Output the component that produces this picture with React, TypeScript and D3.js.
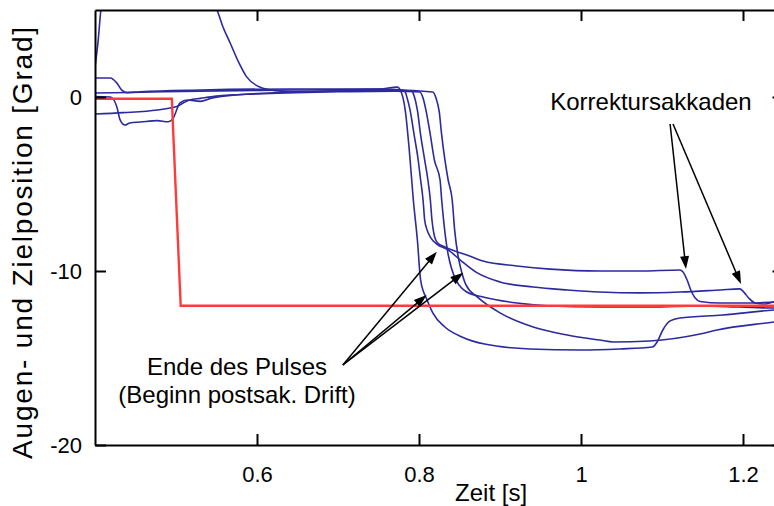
import React, { useRef, useEffect } from 'react';
import * as d3 from 'd3';

// Eye position traces (time [s], position [deg]).
type Pt = [number, number];

const xTicks = [0.6, 0.8, 1, 1.2];
const yTicks = [0, -10, -20];
const xLabel = 'Zeit [s]';
const yLabel = 'Augen- und Zielposition [Grad]';

// target step (red)
const target: Pt[] = [
  [0.4, -0.1], [0.4948, -0.1], [0.5058, -12.0], [1.25, -12.0],
];

// earliest saccade, ends lowest, corrective saccade upward at ~1.09 s
const eye1: Pt[] = [
  [0.400, 0.23], [0.443, 0.26], [0.530, 0.34], [0.641, 0.40], [0.752, 0.46], [0.773, 0.57],
  [0.778, 0.29], [0.783, -0.75], [0.788, -3.05], [0.793, -5.92], [0.798, -8.22], [0.802, -10.52],
  [0.810, -11.67], [0.817, -12.41], [0.832, -13.22], [0.853, -13.79], [0.881, -14.20], [0.937, -14.48],
  [0.999, -14.54], [1.048, -14.48], [1.088, -14.37], [1.094, -14.08], [1.101, -13.39], [1.110, -12.87],
  [1.122, -12.70], [1.175, -12.53], [1.238, -12.24], [1.250, -12.2],
];

// ends at ~ -11.1, correction saccade at ~1.20 s
const eye2: Pt[] = [
  [0.400, 1.09], [0.419, 1.09], [0.427, 0.80], [0.433, 0.40], [0.440, 0.25], [0.456, 0.30],
  [0.530, 0.40], [0.641, 0.46], [0.752, 0.46], [0.779, 0.40], [0.783, 0.29], [0.785, 0.0],
  [0.789, -0.75], [0.794, -2.18], [0.799, -3.62], [0.802, -4.77], [0.805, -5.92], [0.807, -7.07],
  [0.810, -7.64], [0.814, -8.05], [0.822, -8.45], [0.836, -8.79], [0.851, -9.37], [0.872, -10.11],
  [0.900, -10.63], [0.941, -10.92], [0.983, -11.09], [1.023, -11.21], [1.073, -11.26], [1.122, -11.21],
  [1.172, -11.09], [1.196, -11.03], [1.201, -11.21], [1.207, -11.55], [1.215, -11.84], [1.227, -11.90],
  [1.238, -11.78], [1.250, -11.75],
];

// ends at ~ -10, correction saccade at ~1.13 s
const eye3: Pt[] = [
  [0.400, 0.02], [0.419, 0.0], [0.427, -0.57], [0.431, -1.32], [0.437, -1.61], [0.443, -1.49],
  [0.456, -1.44], [0.477, -1.36], [0.490, -1.42], [0.496, -1.26], [0.505, -0.34], [0.514, -0.17],
  [0.530, -0.25], [0.545, -0.05], [0.600, 0.20], [0.700, 0.35], [0.770, 0.40], [0.791, 0.34],
  [0.794, 0.06], [0.798, -0.75], [0.802, -2.18], [0.807, -3.62], [0.811, -4.77], [0.814, -5.92],
  [0.816, -7.07], [0.819, -7.99], [0.823, -8.39], [0.832, -8.62], [0.844, -8.85], [0.859, -9.08],
  [0.879, -9.43], [0.921, -9.71], [0.962, -9.89], [1.023, -10.00], [1.073, -10.00], [1.122, -9.94],
  [1.126, -10.06], [1.131, -10.52], [1.136, -11.15], [1.141, -11.55], [1.147, -11.75], [1.172, -11.84],
  [1.212, -11.84], [1.238, -11.78], [1.250, -11.78],
];

// lands on the target
const eye4: Pt[] = [
  [0.400, -0.98], [0.435, -0.90], [0.477, -0.75], [0.493, -0.63], [0.501, -0.55], [0.509, -0.34],
  [0.517, -0.17], [0.530, -0.08], [0.550, 0.05], [0.600, 0.18], [0.700, 0.30], [0.770, 0.34],
  [0.801, 0.29], [0.805, -0.06], [0.809, -0.86], [0.814, -2.18], [0.819, -3.62], [0.826, -4.77],
  [0.828, -5.92], [0.831, -7.36], [0.835, -8.79], [0.840, -9.83], [0.847, -10.63], [0.859, -11.21],
  [0.879, -11.49], [0.921, -11.84], [0.962, -12.01], [1.023, -12.07], [1.085, -12.07], [1.147, -12.01],
  [1.196, -12.07], [1.238, -12.13], [1.250, -12.13],
];

// starts with a large excursion off the top, latest saccade, ends at ~ -14
const eye5: Pt[] = [
  [0.400, 1.72], [0.404, 3.3], [0.407, 4.9], [0.412, 6.5], [0.470, 9.0], [0.540, 6.0],
  [0.5515, 4.9], [0.558, 4.02], [0.567, 3.09], [0.577, 2.03], [0.587, 1.17], [0.604, 0.56],
  [0.624, 0.36], [0.641, 0.30], [0.700, 0.35], [0.770, 0.40], [0.817, 0.29], [0.821, -0.06],
  [0.825, -0.86], [0.828, -2.18], [0.832, -3.62], [0.836, -4.77], [0.841, -5.92], [0.844, -7.64],
  [0.848, -9.08], [0.852, -9.94], [0.858, -10.80], [0.872, -11.49], [0.900, -12.41], [0.941, -13.22],
  [0.983, -13.68], [1.023, -13.97], [1.040, -14.08], [1.085, -14.02], [1.147, -13.62], [1.168, -13.39],
  [1.238, -12.93], [1.250, -12.85],
];

const eyeTraces = [eye1, eye2, eye3, eye4, eye5];

// annotations (data coordinates)
const pulseText = ['Ende des Pulses', '(Beginn postsak. Drift)'];
const pulseTextPos: Pt[] = [[0.5753, -15.98], [0.5753, -17.59]];
const pulseArrowFrom: Pt = [0.706, -15.4];
const pulseArrowTips: Pt[] = [[0.822, -8.89], [0.8095, -11.38], [0.8547, -10.10]];

const corrText = 'Korrektursakkaden';
const corrTextPos: Pt = [1.0864, -0.75];
const corrArrowFrom: Pt[] = [[1.110, -1.55], [1.1136, -1.55]];
const corrArrowTips: Pt[] = [[1.1296, -9.89], [1.1975, -10.75]];

const xLabelPos: Pt = [0.889, -23.2];

export default function App() {
  const svgRef = useRef<SVGSVGElement | null>(null);

  useEffect(() => {
    if (!svgRef.current) return;
    const svg = d3.select(svgRef.current);
    svg.selectAll('*').remove();

    const font = '"Liberation Sans", Arial, Helvetica, sans-serif';
    const tickSize = 22;
    const textSize = 24;

    const x = d3.scaleLinear().domain([0.4, 1.25]).range([95, 783.5]);
    const y = d3.scaleLinear().domain([-20, 5]).range([445, 10]);

    // clip for the traces
    svg.append('clipPath').attr('id', 'plot-clip')
      .append('rect')
      .attr('x', x(0.4))
      .attr('y', y(5))
      .attr('width', x(1.25) - x(0.4))
      .attr('height', y(-20) - y(5));

    const plot = svg.append('g').attr('clip-path', 'url(#plot-clip)');

    const eyeLine = d3.line<Pt>()
      .x(d => x(d[0]))
      .y(d => y(d[1]))
      .curve(d3.curveMonotoneX);

    eyeTraces.forEach(tr => {
      plot.append('path')
        .attr('d', eyeLine(tr))
        .attr('fill', 'none')
        .attr('stroke', '#2c2a9e')
        .attr('stroke-width', 1.6)
        .attr('stroke-linejoin', 'round');
    });

    const targetLine = d3.line<Pt>().x(d => x(d[0])).y(d => y(d[1]));
    plot.append('path')
      .attr('d', targetLine(target))
      .attr('fill', 'none')
      .attr('stroke', '#ff3a3a')
      .attr('stroke-width', 2.4);

    // axes, ticks pointing inward on all four sides
    const styleAxis = (g: d3.Selection<SVGGElement, unknown, null, undefined>) => {
      g.attr('font-family', null).attr('font-size', null);
      g.select('.domain').attr('stroke', '#000').attr('stroke-width', 2);
      g.selectAll('.tick line').attr('stroke', '#000').attr('stroke-width', 2);
      g.selectAll('.tick text')
        .attr('fill', '#000')
        .attr('font-family', font)
        .attr('font-size', tickSize);
    };

    svg.append('g')
      .attr('transform', `translate(0,${y(-20)})`)
      .call(d3.axisBottom(x).tickValues(xTicks).tickSizeInner(-11).tickSizeOuter(0)
        .tickPadding(21).tickFormat(d => d3.format('~g')(d as number)))
      .call(styleAxis);

    svg.append('g')
      .attr('transform', `translate(0,${y(5)})`)
      .call(d3.axisTop(x).tickValues(xTicks).tickSizeInner(-11).tickSizeOuter(0).tickFormat(() => ''))
      .call(styleAxis);

    svg.append('g')
      .attr('transform', `translate(${x(0.4)},0)`)
      .call(d3.axisLeft(y).tickValues(yTicks).tickSizeInner(-11).tickSizeOuter(0)
        .tickPadding(13).tickFormat(d => String(d)))
      .call(styleAxis);

    svg.append('g')
      .attr('transform', `translate(${x(1.25)},0)`)
      .call(d3.axisRight(y).tickValues(yTicks).tickSizeInner(-11).tickSizeOuter(0).tickFormat(() => ''))
      .call(styleAxis);

    // axis titles
    svg.append('text')
      .attr('x', x(xLabelPos[0]))
      .attr('y', y(xLabelPos[1]))
      .attr('text-anchor', 'middle')
      .attr('font-family', font)
      .attr('font-size', textSize)
      .text(xLabel);

    svg.append('text')
      .attr('transform', `translate(32,242) rotate(-90)`)
      .attr('text-anchor', 'middle')
      .attr('font-family', font)
      .attr('font-size', 28)
      .attr('letter-spacing', 1.8)
      .text(yLabel);

    // arrows
    const arrow = (from: Pt, to: Pt) => {
      const x1 = x(from[0]), y1 = y(from[1]);
      const x2 = x(to[0]), y2 = y(to[1]);
      const a = Math.atan2(y2 - y1, x2 - x1);
      const len = 13, half = 4.5;
      const bx = x2 - len * Math.cos(a), by = y2 - len * Math.sin(a);
      svg.append('line')
        .attr('x1', x1).attr('y1', y1)
        .attr('x2', bx + 2 * Math.cos(a)).attr('y2', by + 2 * Math.sin(a))
        .attr('stroke', '#000').attr('stroke-width', 1.5);
      const pts: [number, number][] = [
        [x2, y2],
        [bx - half * Math.sin(a), by + half * Math.cos(a)],
        [bx + half * Math.sin(a), by - half * Math.cos(a)],
      ];
      svg.append('polygon')
        .attr('points', pts.map(p => p.join(',')).join(' '))
        .attr('fill', '#000');
    };

    pulseArrowTips.forEach(tip => arrow(pulseArrowFrom, tip));
    corrArrowTips.forEach((tip, i) => arrow(corrArrowFrom[i], tip));

    pulseText.forEach((t, i) => {
      svg.append('text')
        .attr('x', x(pulseTextPos[i][0]))
        .attr('y', y(pulseTextPos[i][1]))
        .attr('text-anchor', 'middle')
        .attr('font-family', font)
        .attr('font-size', textSize)
        .text(t);
    });

    svg.append('text')
      .attr('x', x(corrTextPos[0]))
      .attr('y', y(corrTextPos[1]))
      .attr('text-anchor', 'middle')
      .attr('font-family', font)
      .attr('font-size', textSize)
      .text(corrText);
  }, []);

  return (
    <svg
      ref={svgRef}
      width={774}
      height={506}
      style={{ position: 'absolute', left: 0, top: 0, background: '#fff', overflow: 'hidden' }}
    />
  );
}
